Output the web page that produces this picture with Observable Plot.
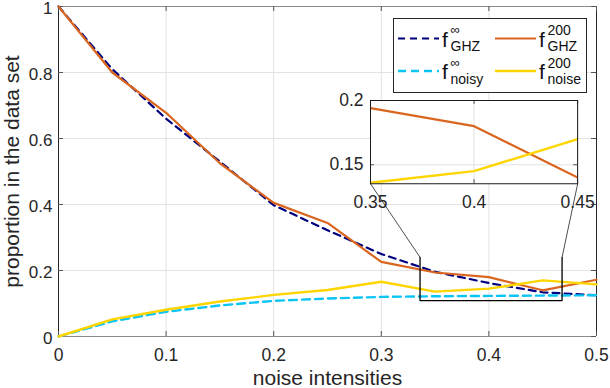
<!DOCTYPE html>
<html><head><meta charset="utf-8">
<script src="https://cdn.jsdelivr.net/npm/d3@7"></script>
<script src="https://cdn.jsdelivr.net/npm/@observablehq/plot@0.6"></script>
<style>
html,body{margin:0;padding:0;background:#fff;}
#chart{position:relative;width:610px;height:388px;overflow:hidden;font-family:"Liberation Sans",Arial,Helvetica,sans-serif;}
#chart svg{position:absolute;overflow:visible;}
</style></head><body><div id="chart"></div>
<script>
// ---- data ----
const noise    = [0, 0.05, 0.1, 0.15, 0.2, 0.25, 0.3, 0.35, 0.4, 0.45, 0.5];
const fGHZinf  = [1.0, 0.81, 0.66, 0.53, 0.398, 0.322, 0.25, 0.196, 0.162, 0.134, 0.125];
const fNoisyInf= [0, 0.046, 0.075, 0.094, 0.108, 0.115, 0.12, 0.122, 0.123, 0.124, 0.125];
const fGHZ200  = [1.0, 0.80, 0.678, 0.525, 0.405, 0.344, 0.226, 0.194, 0.18, 0.14, 0.172];
const fNoise200= [0, 0.052, 0.081, 0.106, 0.126, 0.141, 0.166, 0.136, 0.145, 0.17, 0.158];
const xTicks = [0, 0.1, 0.2, 0.3, 0.4, 0.5];
const yTicks = [0, 0.2, 0.4, 0.6, 0.8, 1];
const insetXTicks = [0.35, 0.4, 0.45];
const insetYTicks = [0.15, 0.2];
const insetXDomain = [0.35, 0.45];
const insetYDomain = [0.1352, 0.2];
const zoomBox = {x1: 0.336, x2: 0.468, y1: 0.109, y2: 0.24};
const insetBox = {x1: 0.29, x2: 0.4825, y1: 0.4627, y2: 0.715};
const xLabel = "noise intensities";
const yLabel = "proportion in the data set";
const colors = {ghzInf: "#00007f", noisyInf: "#0cc4f4", ghz200: "#d9651f", noise200: "#ffd500"};

const rows = noise.map((x, i) => ({x, ghzInf: fGHZinf[i], noisyInf: fNoisyInf[i], ghz200: fGHZ200[i], noise200: fNoise200[i]}));
const insetRows = rows.filter(r => r.x >= insetXDomain[0] - 1e-9 && r.x <= insetXDomain[1] + 1e-9);

const FONT = '"Liberation Sans", Arial, Helvetica, sans-serif';
const TXT = "#262626";
const GRID = "#e2e2e2";
const W = 610, H = 388, mL = 58, mR = 14, mT = 6, mB = 52;
const iw = W - mL - mR, ih = H - mT - mB;
const tickFmt = d => String(d);

const main = Plot.plot({
  width: W, height: H, marginLeft: mL, marginRight: mR, marginTop: mT, marginBottom: mB,
  style: {fontFamily: FONT, fontSize: "17.5px", color: TXT, background: "transparent"},
  x: {domain: [0, 0.5]},
  y: {domain: [0, 1]},
  marks: [
    Plot.gridX(xTicks, {stroke: GRID, strokeOpacity: 1}),
    Plot.gridY(yTicks, {stroke: GRID, strokeOpacity: 1}),
    Plot.ruleY([0, 1], {stroke: "#8a8a8a"}),
    Plot.ruleX([0, 0.5], {stroke: TXT}),
    Plot.ruleX(xTicks, {insetTop: ih - 5, stroke: "#555"}),
    Plot.ruleX(xTicks, {insetBottom: ih - 5, stroke: "#555"}),
    Plot.ruleY(yTicks, {insetRight: iw - 5, stroke: "#555"}),
    Plot.ruleY(yTicks, {insetLeft: iw - 5, stroke: "#555"}),
    Plot.axisX(xTicks, {tickSize: 0, tickPadding: 12, tickFormat: tickFmt, label: null, fontSize: 17.5}),
    Plot.axisY(yTicks, {tickSize: 0, tickPadding: 6, tickFormat: tickFmt, label: null, fontSize: 17, dy: 2}),
    Plot.text([xLabel], {text: d => d, frameAnchor: "bottom", dy: 42, fontSize: 21, fill: TXT, lineAnchor: "middle", textAnchor: "middle"}),
    Plot.text([yLabel], {text: d => d, frameAnchor: "left", dx: -46, rotate: -90, fontSize: 21, fill: TXT, lineAnchor: "middle", textAnchor: "middle"}),
    Plot.line(rows, {x: "x", y: "ghzInf", stroke: colors.ghzInf, strokeWidth: 2.2, strokeDasharray: "7,5"}),
    Plot.line(rows, {x: "x", y: "noisyInf", stroke: colors.noisyInf, strokeWidth: 2.4, strokeDasharray: "8,5"}),
    Plot.line(rows, {x: "x", y: "ghz200", stroke: colors.ghz200, strokeWidth: 2.2}),
    Plot.line(rows, {x: "x", y: "noise200", stroke: colors.noise200, strokeWidth: 2.4}),
    Plot.line([[zoomBox.x1, zoomBox.y2], [zoomBox.x1, zoomBox.y1], [zoomBox.x2, zoomBox.y1], [zoomBox.x2, zoomBox.y2]],
      {x: d => d[0], y: d => d[1], stroke: "#000", strokeWidth: 1.3}),
    Plot.link([{x1: zoomBox.x1, y1: zoomBox.y2, x2: insetBox.x1, y2: insetBox.y1},
               {x1: zoomBox.x2, y1: zoomBox.y2, x2: insetBox.x2, y2: insetBox.y1}],
      {x1: "x1", y1: "y1", x2: "x2", y2: "y2", stroke: "#000", strokeWidth: 0.7})
  ]
});
main.style.left = "0px"; main.style.top = "0px";
const chart = document.getElementById("chart");
chart.appendChild(main);

// ---- inset ----
const xs = main.scale("x"), ys = main.scale("y");
const bx1 = xs.apply(insetBox.x1), bx2 = xs.apply(insetBox.x2);
const byTop = ys.apply(insetBox.y2), byBot = ys.apply(insetBox.y1);
const iL = 50, iR = 20, iT = 8, iB = 32;
const inW = bx2 - bx1, inH = byBot - byTop;
const inset = Plot.plot({
  width: inW + iL + iR, height: inH + iT + iB,
  marginLeft: iL, marginRight: iR, marginTop: iT, marginBottom: iB,
  style: {fontFamily: FONT, fontSize: "17.5px", color: TXT, background: "transparent"},
  x: {domain: insetXDomain},
  y: {domain: insetYDomain},
  marks: [
    Plot.frame({fill: "white", stroke: "none"}),
    Plot.gridX(insetXTicks, {stroke: GRID, strokeOpacity: 1}),
    Plot.gridY(insetYTicks, {stroke: GRID, strokeOpacity: 1}),
    Plot.ruleX(insetXTicks, {insetTop: inH - 4, stroke: "#555"}),
    Plot.ruleX(insetXTicks, {insetBottom: inH - 4, stroke: "#555"}),
    Plot.ruleY(insetYTicks, {insetRight: inW - 4, stroke: "#555"}),
    Plot.ruleY(insetYTicks, {insetLeft: inW - 4, stroke: "#555"}),
    Plot.line(insetRows, {x: "x", y: "ghz200", stroke: colors.ghz200, strokeWidth: 2.2, clip: true}),
    Plot.line(insetRows, {x: "x", y: "noise200", stroke: colors.noise200, strokeWidth: 2.4, clip: true}),
    Plot.frame({stroke: "#1a1a1a", strokeWidth: 1}),
    Plot.axisX(insetXTicks, {tickSize: 0, tickPadding: 12, tickFormat: tickFmt, label: null, fontSize: 17.5}),
    Plot.axisY(insetYTicks, {tickSize: 0, tickPadding: 7, tickFormat: tickFmt, label: null, fontSize: 17.5})
  ]
});
inset.style.left = (bx1 - iL) + "px";
inset.style.top = (byTop - iT) + "px";
chart.appendChild(inset);

// ---- legend ----
const legendItems = [
  {key: "ghzInf", sup: "\u221E", sub: "GHZ", col: 0, row: 0, dash: "7,5", w: 2.2},
  {key: "noisyInf", sup: "\u221E", sub: "noisy", col: 0, row: 1, dash: "8,5", w: 2.6},
  {key: "ghz200", sup: "200", sub: "GHZ", col: 1, row: 0, dash: null, w: 2.2},
  {key: "noise200", sup: "200", sub: "noise", col: 1, row: 1, dash: null, w: 2.6}
];
const lg = d3.create("svg").attr("width", 194).attr("height", 75)
  .style("left", "393px").style("top", "18px").style("font-family", FONT);
lg.append("rect").attr("x", 0.5).attr("y", 0.5).attr("width", 193).attr("height", 74)
  .attr("fill", "white").attr("stroke", "#262626").attr("stroke-width", 1);
for (const it of legendItems) {
  const ox = it.col === 0 ? 0 : 97, oy = it.row * 32.5;
  lg.append("line").attr("x1", 5 + ox).attr("x2", 46 + ox).attr("y1", 20.5 + oy).attr("y2", 20.5 + oy)
    .attr("stroke", colors[it.key]).attr("stroke-width", it.w).attr("stroke-dasharray", it.dash);
  lg.append("text").attr("x", 49 + ox).attr("y", 28.5 + oy).attr("font-size", 21).attr("fill", "#111").text("f");
  lg.append("text").attr("x", 57.5 + ox).attr("y", (it.sup === "200" ? 17 : 16) + oy)
    .attr("font-size", it.sup === "200" ? 14 : 13).attr("fill", "#111").text(it.sup);
  lg.append("text").attr("x", 57.5 + ox).attr("y", 33 + oy).attr("font-size", 14).attr("fill", "#111").text(it.sub);
}
chart.appendChild(lg.node());
</script></body></html>
